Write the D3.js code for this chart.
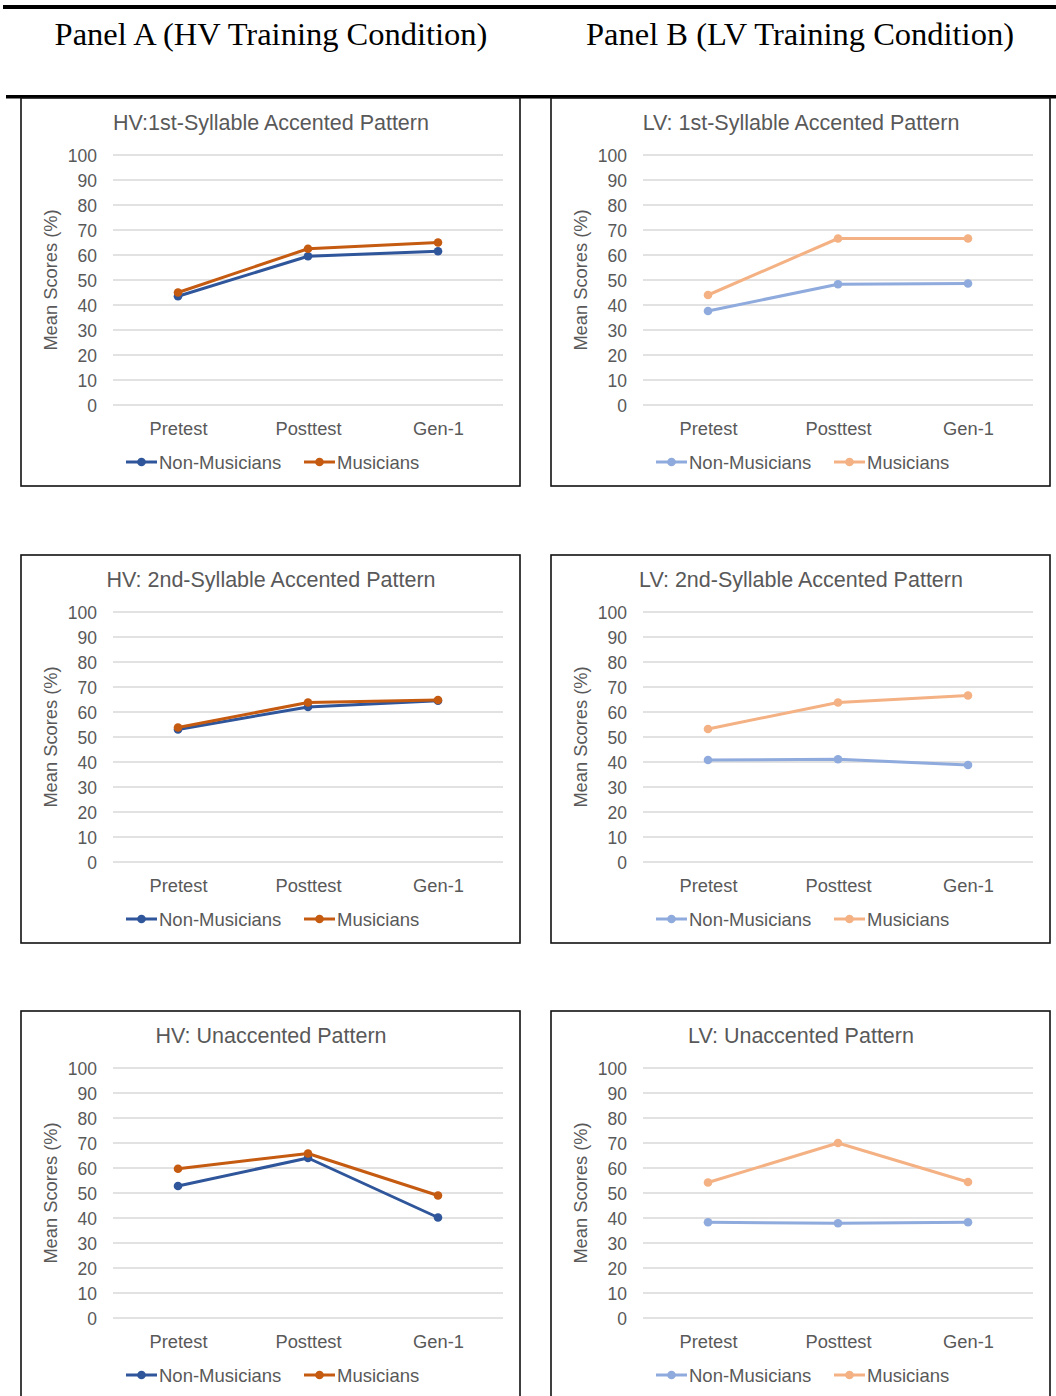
<!DOCTYPE html>
<html><head><meta charset="utf-8">
<script src="https://cdn.jsdelivr.net/npm/d3@7"></script>
<style>body{margin:0;background:#fff;}svg{display:block;}</style>
</head><body>
<script>
const categories = ["Pretest", "Posttest", "Gen-1"];
const yTicks = [0, 10, 20, 30, 40, 50, 60, 70, 80, 90, 100];
const seriesNames = ["Non-Musicians", "Musicians"];
const panelHeaders = ["Panel A (HV Training Condition)", "Panel B (LV Training Condition)"];
const chartTitles = [
  "HV:1st-Syllable Accented Pattern", "LV: 1st-Syllable Accented Pattern",
  "HV: 2nd-Syllable Accented Pattern", "LV: 2nd-Syllable Accented Pattern",
  "HV: Unaccented Pattern", "LV: Unaccented Pattern"
];
// values: [Non-Musicians, Musicians]
const hv1NonMus = [43.5, 59.5, 61.5];
const hv1Mus    = [45.0, 62.5, 65.0];
const lv1NonMus = [37.6, 48.3, 48.6];
const lv1Mus    = [44.0, 66.6, 66.6];
const hv2NonMus = [53.0, 62.0, 64.5];
const hv2Mus    = [53.8, 63.8, 64.8];
const lv2NonMus = [40.8, 41.1, 38.8];
const lv2Mus    = [53.2, 63.8, 66.6];
const hv3NonMus = [52.8, 64.0, 40.2];
const hv3Mus    = [59.7, 65.8, 49.0];
const lv3NonMus = [38.3, 37.9, 38.3];
const lv3Mus    = [54.2, 70.0, 54.4];

const hvColors = ["#2F559A", "#C55A11"];
const lvColors = ["#8FAADC", "#F4B183"];

const charts = [
  {title: chartTitles[0], data: [hv1NonMus, hv1Mus], colors: hvColors, col: 0, row: 0},
  {title: chartTitles[1], data: [lv1NonMus, lv1Mus], colors: lvColors, col: 1, row: 0},
  {title: chartTitles[2], data: [hv2NonMus, hv2Mus], colors: hvColors, col: 0, row: 1},
  {title: chartTitles[3], data: [lv2NonMus, lv2Mus], colors: lvColors, col: 1, row: 1},
  {title: chartTitles[4], data: [hv3NonMus, hv3Mus], colors: hvColors, col: 0, row: 2},
  {title: chartTitles[5], data: [lv3NonMus, lv3Mus], colors: lvColors, col: 1, row: 2}
];

const W = 1056, H = 1396;
const svg = d3.select("body").append("svg").attr("width", W).attr("height", H);

// header rules
svg.append("rect").attr("x", 3).attr("y", 5).attr("width", W - 3).attr("height", 4).attr("fill", "#000");
svg.append("rect").attr("x", 6).attr("y", 95).attr("width", W - 6).attr("height", 3.5).attr("fill", "#000");

const headerX = [271, 800];
panelHeaders.forEach((t, i) => {
  svg.append("text").attr("x", headerX[i]).attr("y", 45)
    .attr("text-anchor", "middle")
    .attr("font-family", "'Liberation Serif','Times New Roman',serif")
    .attr("font-size", 32.5).attr("fill", "#000").text(t);
});

const colX = [21, 551];
const rowY = [98, 555, 1011];
const boxW = 499, boxH = 388;
const textColor = "#595959";
const font = "'Liberation Sans', Arial, Helvetica, sans-serif";

charts.forEach(c => {
  const bx = colX[c.col], by = rowY[c.row];
  const g = svg.append("g").attr("transform", `translate(${bx},${by})`);
  g.append("rect").attr("x", 0).attr("y", 0).attr("width", boxW).attr("height", boxH)
    .attr("fill", "#fff").attr("stroke", "#111").attr("stroke-width", 1.6);

  const x = d3.scalePoint().domain(categories).range([92, 482]).padding(0.5);
  const y = d3.scaleLinear().domain([0, 100]).range([307, 57]);

  g.append("text").attr("x", 250).attr("y", 32).attr("text-anchor", "middle")
    .attr("font-family", font).attr("font-size", 21.5).attr("fill", textColor).text(c.title);

  // grid
  g.append("g").selectAll("line").data(yTicks).join("line")
    .attr("x1", 92).attr("x2", 482)
    .attr("y1", d => y(d)).attr("y2", d => y(d))
    .attr("stroke", "#d9d9d9").attr("stroke-width", 1.3);

  // y axis labels
  const yAxis = d3.axisLeft(y).tickValues(yTicks).tickSize(0).tickPadding(0);
  const ya = g.append("g").attr("transform", "translate(76,0)").call(yAxis);
  ya.select(".domain").remove();
  ya.selectAll("text").attr("font-family", font).attr("font-size", 17.5).attr("fill", textColor)
    .attr("dy", "0.36em");

  // x axis labels
  const xAxis = d3.axisBottom(x).tickSize(0).tickPadding(0);
  const xa = g.append("g").attr("transform", "translate(0,321)").call(xAxis);
  xa.select(".domain").remove();
  xa.selectAll("text").attr("font-family", font).attr("font-size", 18.3).attr("fill", textColor)
    .attr("dy", "0.9em");

  // y title
  g.append("text").attr("transform", `translate(36,${(y(0) + y(100)) / 2}) rotate(-90)`)
    .attr("text-anchor", "middle").attr("font-family", font).attr("font-size", 18.3)
    .attr("fill", textColor).text("Mean Scores (%)");

  const line = d3.line().x((d, i) => x(categories[i])).y(d => y(d));
  c.data.forEach((vals, si) => {
    g.append("path").datum(vals).attr("d", line).attr("fill", "none")
      .attr("stroke", c.colors[si]).attr("stroke-width", 3).attr("stroke-linejoin", "round");
    g.append("g").selectAll("circle").data(vals).join("circle")
      .attr("cx", (d, i) => x(categories[i])).attr("cy", d => y(d)).attr("r", 4.3)
      .attr("fill", c.colors[si]);
  });

  // legend
  const legX = [105, 283];
  seriesNames.forEach((n, si) => {
    const lx = legX[si], ly = 364;
    g.append("line").attr("x1", lx).attr("x2", lx + 31).attr("y1", ly).attr("y2", ly)
      .attr("stroke", c.colors[si]).attr("stroke-width", 3);
    g.append("circle").attr("cx", lx + 15.5).attr("cy", ly).attr("r", 4.3).attr("fill", c.colors[si]);
    g.append("text").attr("x", lx + 33).attr("y", ly).attr("dy", "0.36em")
      .attr("font-family", font).attr("font-size", 18.5).attr("fill", textColor).text(n);
  });
});
</script>
</body></html>
